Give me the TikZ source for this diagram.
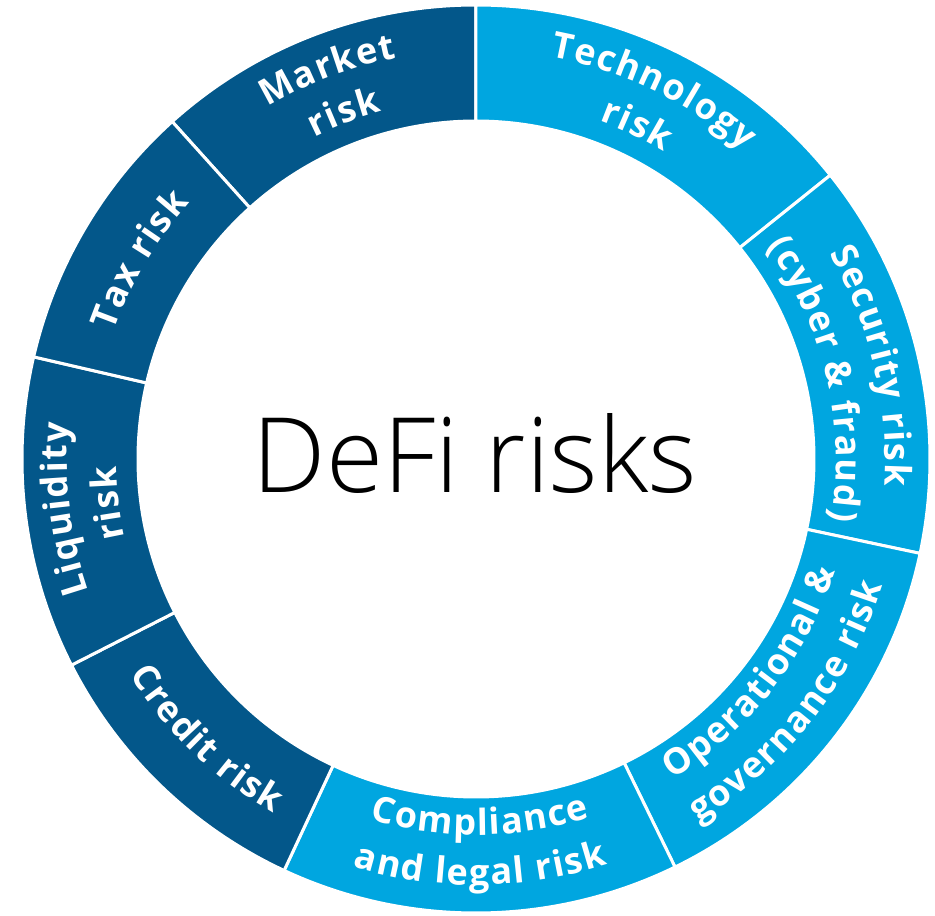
\documentclass[tikz,border=0pt]{standalone}
\usepackage{fontspec}
\setmainfont{Open Sans}
\IfFontExistsTF{Open Sans Light}{\newfontfamily\thinfont{Open Sans Light}}{\newfontfamily\thinfont{Open Sans}}
\usetikzlibrary{decorations.text}
\definecolor{riskdark}{RGB}{3,87,138}
\definecolor{risklight}{RGB}{0,166,224}
\newcommand{\lblfont}{\bfseries\fontsize{36}{36}\selectfont\kern1.5pt}

\begin{document}
\begin{tikzpicture}[x=1pt, y=1pt,
    seg/.style={draw=white, line width=3pt, fill=#1},
    lbl/.style={decorate, decoration={text along path, text align=center, text color=white, text={|\lblfont|#1}}}]
        \useasboundingbox (-476,-457) rectangle (459,459);

          % ring parts, clockwise from the top
          \path[seg=riskdark] (132:454) arc[start angle=132, end angle=90, radius=454] -- (90:338) arc[start angle=90, end angle=132, radius=338] -- cycle;
          \path[seg=risklight] (90:454) arc[start angle=90, end angle=38.7, radius=454] -- (38.7:338) arc[start angle=38.7, end angle=90, radius=338] -- cycle;
          \path[seg=risklight] (38.7:454) arc[start angle=38.7, end angle=-12, radius=454] -- (-12:338) arc[start angle=-12, end angle=38.7, radius=338] -- cycle;
          \path[seg=risklight] (-12:454) arc[start angle=-12, end angle=-64, radius=454] -- (-64:338) arc[start angle=-64, end angle=-12, radius=338] -- cycle;
          \path[seg=risklight] (-64:454) arc[start angle=-64, end angle=-115, radius=454] -- (-115:338) arc[start angle=-115, end angle=-64, radius=338] -- cycle;
          \path[seg=riskdark] (-115:454) arc[start angle=-115, end angle=-153, radius=454] -- (-153:338) arc[start angle=-153, end angle=-115, radius=338] -- cycle;
          \path[seg=riskdark] (207:454) arc[start angle=207, end angle=167, radius=454] -- (167:338) arc[start angle=167, end angle=207, radius=338] -- cycle;
          \path[seg=riskdark] (167:454) arc[start angle=167, end angle=132, radius=454] -- (132:338) arc[start angle=132, end angle=167, radius=338] -- cycle;

          % labels on the upper half run clockwise
          \path[lbl=Market] (132:409) arc[start angle=132, end angle=90, radius=409];
          \path[lbl=risk] (132:360) arc[start angle=132, end angle=90, radius=360];
          \path[lbl=Technology] (90:409) arc[start angle=90, end angle=38.7, radius=409];
          \path[lbl=risk] (90:360) arc[start angle=90, end angle=38.7, radius=360];
          \path[lbl=Security risk] (38.7:409) arc[start angle=38.7, end angle=-12, radius=409];
          \path[lbl=(cyber {\&} fraud)] (38.7:360) arc[start angle=38.7, end angle=-12, radius=360];
          \path[lbl=Liquidity] (207:409) arc[start angle=207, end angle=167, radius=409];
          \path[lbl=risk] (207:360) arc[start angle=207, end angle=167, radius=360];
          \path[lbl=Tax risk] (167:384) arc[start angle=167, end angle=132, radius=384];

          % labels on the lower half run anticlockwise
          \path[lbl=Operational {\&}] (-64:376) arc[start angle=-64, end angle=-12, radius=376];
          \path[lbl=governance risk] (-64:426) arc[start angle=-64, end angle=-12, radius=426];
          \path[lbl=Compliance] (-115:376) arc[start angle=-115, end angle=-64, radius=376];
          \path[lbl=and legal risk] (-115:426) arc[start angle=-115, end angle=-64, radius=426];
          \path[lbl=Credit risk] (-153:408) arc[start angle=-153, end angle=-115, radius=408];

          \node[font=\thinfont\fontsize{104}{104}\selectfont, anchor=base] (title) at (-1,-33) {DeFi risks};

        \end{tikzpicture}
\end{document}
